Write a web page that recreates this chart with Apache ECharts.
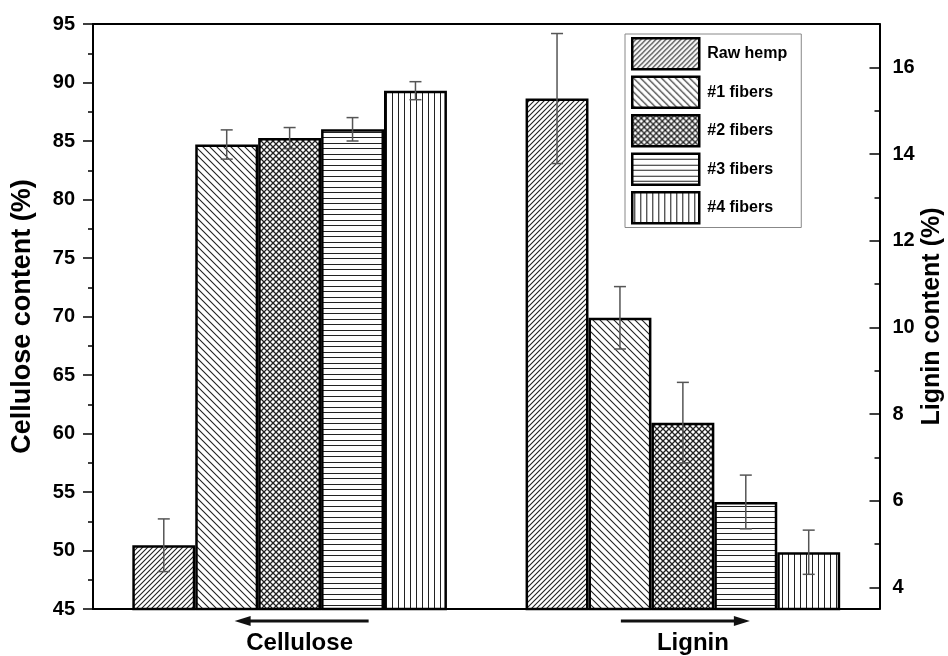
<!DOCTYPE html>
<html><head><meta charset="utf-8">
<script src="https://cdn.jsdelivr.net/npm/echarts@6/dist/echarts.min.js"></script>
<style>html,body{margin:0;padding:0;background:#fff}#c{width:948px;height:656px}</style>
</head><body><div id="c"></div>
<script>
// ---- data ----
const groups = ['Cellulose', 'Lignin'];
const sampleNames = ['Raw hemp', '#1 fibers', '#2 fibers', '#3 fibers', '#4 fibers'];
const celluloseValues = [50.45, 84.7, 85.25, 86.0, 89.3];
const celluloseErrors = [2.25, 1.25, 0.9, 1.0, 0.77];
const ligninValues = [15.28, 10.22, 7.8, 5.97, 4.81];
const ligninErrors = [1.5, 0.72, 0.93, 0.62, 0.51];
const rightTickValues = [4, 6, 8, 10, 12, 14, 16];
const rightMinorTickValues = [5, 7, 9, 11, 13, 15];

const FONT = "Arial, 'Liberation Sans', sans-serif";
const INK = '#222';

function makePattern(kind) {
  const c = document.createElement('canvas');
  let w = 6, h = 6;
  if (kind === 'fwd') { w = h = 5; }
  if (kind === 'back') { w = h = 7; }
  if (kind === 'cross') { w = h = 6; }
  if (kind === 'horiz') { w = 4; h = 11; }
  if (kind === 'vert') { w = 6; h = 4; }
  c.width = w; c.height = h;
  const ctx = c.getContext('2d');
  ctx.fillStyle = '#fff'; ctx.fillRect(0, 0, w, h);
  ctx.strokeStyle = INK; ctx.fillStyle = INK; ctx.lineWidth = 1.1;
  const fwd = (p) => { ctx.beginPath(); ctx.moveTo(0, p); ctx.lineTo(p, 0); ctx.moveTo(-2, 2); ctx.lineTo(2, -2); ctx.moveTo(p - 2, p + 2); ctx.lineTo(p + 2, p - 2); ctx.stroke(); };
  const back = (p) => { ctx.beginPath(); ctx.moveTo(0, 0); ctx.lineTo(p, p); ctx.moveTo(-2, p - 2); ctx.lineTo(2, p + 2); ctx.moveTo(p - 2, -2); ctx.lineTo(p + 2, 2); ctx.stroke(); };
  if (kind === 'fwd') fwd(w);
  if (kind === 'back') back(w);
  if (kind === 'cross') { ctx.lineWidth = 1.3; fwd(w); back(w); }
  if (kind === 'horiz') { ctx.fillRect(0, 0, w, 1); ctx.fillRect(0, 5, w, 1); }
  if (kind === 'vert') { ctx.fillRect(2, 0, 1, h); }
  return { image: c, repeat: 'repeat' };
}
const patterns = ['fwd', 'back', 'cross', 'horiz', 'vert'].map(makePattern);

const chart = echarts.init(document.getElementById('c'), null, { renderer: 'canvas' });

const barSeries = [];
sampleNames.forEach((name, i) => {
  const common = {
    type: 'bar', name: name, barGap: '0%', barCategoryGap: '20%',
    itemStyle: { color: patterns[i], borderColor: '#000', borderWidth: 2.5 },
    emphasis: { disabled: true }
  };
  barSeries.push(Object.assign({}, common, { xAxisIndex: 0, yAxisIndex: 0, data: [celluloseValues[i], '-'] }));
  barSeries.push(Object.assign({}, common, { xAxisIndex: 1, yAxisIndex: 1, data: ['-', ligninValues[i]] }));
});

function errorRender(params, api) {
  const cat = api.value(0), v = api.value(1), e = api.value(2), k = api.value(3);
  const band = api.size([1, 0])[0];
  const bw = band * 0.8 / sampleNames.length;
  const x = api.coord([cat, v])[0] + (k - 2) * bw;
  const yHi = api.coord([cat, v + e])[1];
  const yLo = api.coord([cat, v - e])[1];
  const cap = 6;
  const st = { stroke: '#555', lineWidth: 1.5 };
  return {
    type: 'group', children: [
      { type: 'line', shape: { x1: x, y1: yHi, x2: x, y2: yLo }, style: st },
      { type: 'line', shape: { x1: x - cap, y1: yHi, x2: x + cap, y2: yHi }, style: st },
      { type: 'line', shape: { x1: x - cap, y1: yLo, x2: x + cap, y2: yLo }, style: st }
    ]
  };
}

const errorSeries = [
  { type: 'custom', xAxisIndex: 0, yAxisIndex: 0, z: 10, silent: true, encode: { x: 0, y: 1 },
    data: celluloseValues.map((v, i) => [0, v, celluloseErrors[i], i]), renderItem: errorRender },
  { type: 'custom', xAxisIndex: 1, yAxisIndex: 1, z: 10, silent: true, encode: { x: 0, y: 1 },
    data: ligninValues.map((v, i) => [1, v, ligninErrors[i], i]), renderItem: errorRender }
];

const axisLineStyle = { show: true, lineStyle: { color: '#000', width: 2 } };
const tickLabel = { color: '#000', fontFamily: FONT, fontWeight: 'bold', fontSize: 20 };

chart.setOption({
  animation: false,
  backgroundColor: '#fff',
  grid: { left: 93, right: 68.5, top: 24, bottom: 47, outerBoundsMode: 'none', containLabel: false },
  legend: {
    data: sampleNames, orient: 'vertical', left: 625, top: 34,
    itemWidth: 67, itemHeight: 31, itemGap: 5, padding: [3, 14, 3, 6],
    borderColor: '#888', borderWidth: 1, icon: 'rect',
    itemStyle: { borderColor: '#000', borderWidth: 2.5 },
    textStyle: { color: '#000', fontFamily: FONT, fontWeight: 'bold', fontSize: 16, padding: [0, 0, 0, 3] },
    selectedMode: false
  },
  xAxis: [
    { type: 'category', data: groups, position: 'bottom', axisLine: axisLineStyle, axisTick: { show: false },
      axisLabel: { color: '#000', fontFamily: FONT, fontWeight: 'bold', fontSize: 24, margin: 22, lineHeight: 24, padding: [0, 0, 0, 20] } },
    { type: 'category', data: groups, position: 'top', axisLine: axisLineStyle, axisTick: { show: false }, axisLabel: { show: false } }
  ],
  yAxis: [
    { type: 'value', position: 'left', min: 45, max: 95, interval: 5,
      axisLine: axisLineStyle, splitLine: { show: false },
      axisTick: { show: true, inside: false, length: 10, lineStyle: { color: '#000', width: 1.5 } },
      minorTick: { show: true, splitNumber: 2, length: 5, lineStyle: { color: '#000', width: 1.5 } },
      axisLabel: Object.assign({ margin: 18 }, tickLabel),
      name: 'Cellulose content (%)', nameLocation: 'middle', nameGap: 57,
      nameTextStyle: { color: '#000', fontFamily: FONT, fontWeight: 'bold', fontSize: 27 } },
    { type: 'value', position: 'right', min: 3.5, max: 17,
      axisLine: axisLineStyle, splitLine: { show: false },
      axisTick: { show: true, inside: true, length: 10, customValues: rightTickValues, lineStyle: { color: '#000', width: 1.5 } },
      axisLabel: Object.assign({ margin: 13, customValues: rightTickValues }, tickLabel),
      name: 'Lignin content (%)', nameLocation: 'middle', nameGap: 40, nameMoveOverlap: false,
      nameTextStyle: { color: '#000', fontFamily: FONT, fontWeight: 'bold', fontSize: 25 } },
    { type: 'value', position: 'right', min: 3.5, max: 17,
      axisLine: { show: false }, splitLine: { show: false }, axisLabel: { show: false },
      axisTick: { show: true, inside: true, length: 5, customValues: rightMinorTickValues, lineStyle: { color: '#000', width: 1.5 } } }
  ],
  series: barSeries.concat(errorSeries)
});

// arrows under the groups, placed through the axis scales
function arrows() {
  const y = chart.convertToPixel({ yAxisIndex: 0 }, 45) + 12;
  const c0 = chart.convertToPixel({ xAxisIndex: 0 }, groups[0]);
  const c1 = chart.convertToPixel({ xAxisIndex: 0 }, groups[1]);
  const head = 16, hh = 5;
  const st = { stroke: '#111', lineWidth: 3 };
  const a0s = c0 - 55, a0e = c0 + 79;
  const a1s = c1 - 62, a1e = c1 + 67;
  return [
    { type: 'line', shape: { x1: a0s + head - 2, y1: y, x2: a0e, y2: y }, style: st, silent: true },
    { type: 'polygon', shape: { points: [[a0s, y], [a0s + head, y - hh], [a0s + head, y + hh]] }, style: { fill: '#111' }, silent: true },
    { type: 'line', shape: { x1: a1s, y1: y, x2: a1e - head + 2, y2: y }, style: st, silent: true },
    { type: 'polygon', shape: { points: [[a1e, y], [a1e - head, y - hh], [a1e - head, y + hh]] }, style: { fill: '#111' }, silent: true }
  ];
}
chart.setOption({ graphic: arrows() });
</script>
</body></html>
